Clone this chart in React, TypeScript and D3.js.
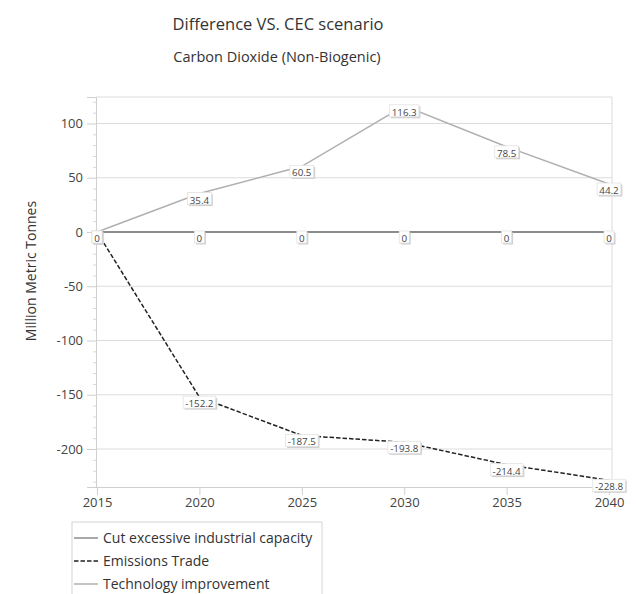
import React, { useEffect, useRef } from "react";
import * as d3 from "d3";

const years = [2015, 2020, 2025, 2030, 2035, 2040];
const cutCapacity = [0, 0, 0, 0, 0, 0];
const emissionsTrade = [0, -152.2, -187.5, -193.8, -214.4, -228.8];
const techImprovement = [0, 35.4, 60.5, 116.3, 78.5, 44.2];
const seriesNames = ["Cut excessive industrial capacity", "Emissions Trade", "Technology improvement"];
const yTicks = [100, 50, 0, -50, -100, -150, -200];

const W = 637, H = 594;
const FONT = "'Open Sans', 'Noto Sans', sans-serif";

export default function App() {
  const ref = useRef<SVGSVGElement>(null);
  useEffect(() => {
    const svg = d3.select(ref.current!);
    svg.selectAll("*").remove();
    const left = 96, right = 612, top = 97, bottom = 487;
    const x = d3.scaleLinear().domain([2015, 2040]).range([97, 609]);
    const y = d3.scaleLinear().domain([-235, 124.4]).range([bottom, top]);

    svg.append("rect").attr("width", W).attr("height", H).attr("fill", "#fff");

    // titles
    svg.append("text").attr("x", 278).attr("y", 30).attr("text-anchor", "middle")
      .attr("font-family", FONT).attr("font-size", 16.5).attr("fill", "#333").text("Difference VS. CEC scenario");
    svg.append("text").attr("x", 277).attr("y", 62).attr("text-anchor", "middle")
      .attr("font-family", FONT).attr("font-size", 14.5).attr("fill", "#333").text("Carbon Dioxide (Non-Biogenic)");

    // grid
    const g = svg.append("g");
    yTicks.forEach(t => {
      g.append("line").attr("x1", left).attr("x2", right).attr("y1", y(t)).attr("y2", y(t))
        .attr("stroke", "#dcdcdc").attr("stroke-width", 1);
    });
    g.append("line").attr("x1", left).attr("x2", right).attr("y1", top).attr("y2", top).attr("stroke", "#dcdcdc");
    g.append("line").attr("x1", right).attr("x2", right).attr("y1", top).attr("y2", bottom).attr("stroke", "#dcdcdc");

    // y axis
    const yAxis = d3.axisLeft(y).tickValues(yTicks).tickSize(9).tickPadding(4).tickFormat((d: any) => String(d));
    const ya = svg.append("g").attr("transform", `translate(${left},0)`).call(yAxis);
    ya.select(".domain").attr("stroke", "#cfcfcf");
    ya.selectAll(".tick line").attr("stroke", "#cfcfcf");
    ya.selectAll(".tick text").attr("font-family", FONT).attr("font-size", 13).attr("fill", "#444");
    const minor = d3.range(-230, 121, 10).filter(v => v % 50 !== 0);
    const ym = svg.append("g").attr("transform", `translate(${left},0)`)
      .call(d3.axisLeft(y).tickValues(minor).tickSize(3).tickFormat(() => ""));
    ym.select(".domain").remove();
    ym.selectAll(".tick line").attr("stroke", "#d8d8d8");

    // x axis
    const xAxis = d3.axisBottom(x).tickValues(years).tickSize(8).tickPadding(3).tickFormat((d: any) => String(d));
    const xa = svg.append("g").attr("transform", `translate(0,${bottom})`).call(xAxis);
    xa.select(".domain").attr("d", `M${left},0.5H${right}`).attr("stroke", "#cfcfcf");
    xa.selectAll(".tick line").attr("stroke", "#cfcfcf");
    xa.selectAll(".tick text").attr("font-family", FONT).attr("font-size", 13).attr("fill", "#444");

    // y label
    svg.append("text").attr("transform", `translate(36,271) rotate(-90)`)
      .attr("text-anchor", "middle").attr("font-family", FONT).attr("font-size", 14).attr("fill", "#333")
      .text("Million Metric Tonnes");

    const series = [
      { name: seriesNames[0], values: cutCapacity, color: "#8c8c8c", width: 2, dash: null },
      { name: seriesNames[1], values: emissionsTrade, color: "#222", width: 1.5, dash: "4.5,2" },
      { name: seriesNames[2], values: techImprovement, color: "#b0b0b0", width: 1.5, dash: null },
    ];
    const line = d3.line<number>().x((_, i) => x(years[i])).y(d => y(d));
    series.forEach(s => {
      svg.append("path").attr("d", line(s.values)!).attr("fill", "none").attr("stroke", s.color)
        .attr("stroke-width", s.width).attr("stroke-dasharray", s.dash as any);
    });

    // labels
    const lg = svg.append("g");
    series.forEach(s => {
      s.values.forEach((v, i) => {
        const px = x(years[i]), py = y(v);
        const t = lg.append("text").attr("x", px).attr("y", py + 10).attr("text-anchor", "middle")
          .attr("font-family", FONT).attr("font-size", 9.8).attr("fill", "#444").text(String(v));
        const bb = (t.node() as SVGTextElement).getBBox();
        const bw = bb.width + 4, bh = 12;
        lg.insert("rect", () => t.node()).attr("x", px - bw / 2 + 1.5).attr("y", py + 0.5).attr("width", bw).attr("height", bh)
          .attr("fill", "#cfcfcf");
        lg.insert("rect", () => t.node()).attr("x", px - bw / 2).attr("y", py - 1).attr("width", bw).attr("height", bh)
          .attr("fill", "#fff").attr("stroke", "#e2e2e2").attr("stroke-width", 0.8);
      });
    });

    // legend
    svg.append("rect").attr("x", 72).attr("y", 522).attr("width", 250).attr("height", 80)
      .attr("fill", "#fff").attr("stroke", "#d4d4d4");
    const rows = [538, 561, 584];
    series.forEach((s, i) => {
      svg.append("line").attr("x1", 74).attr("x2", 98).attr("y1", rows[i]).attr("y2", rows[i])
        .attr("stroke", s.color).attr("stroke-width", 1.5).attr("stroke-dasharray", s.dash as any);
      svg.append("text").attr("x", 103).attr("y", rows[i] + 5).attr("font-family", FONT).attr("font-size", 14)
        .attr("fill", "#333").text(s.name);
    });
  }, []);
  return <svg ref={ref} width={W} height={H} style={{ display: "block", position: "fixed", left: 0, top: 0 }} />;
}
